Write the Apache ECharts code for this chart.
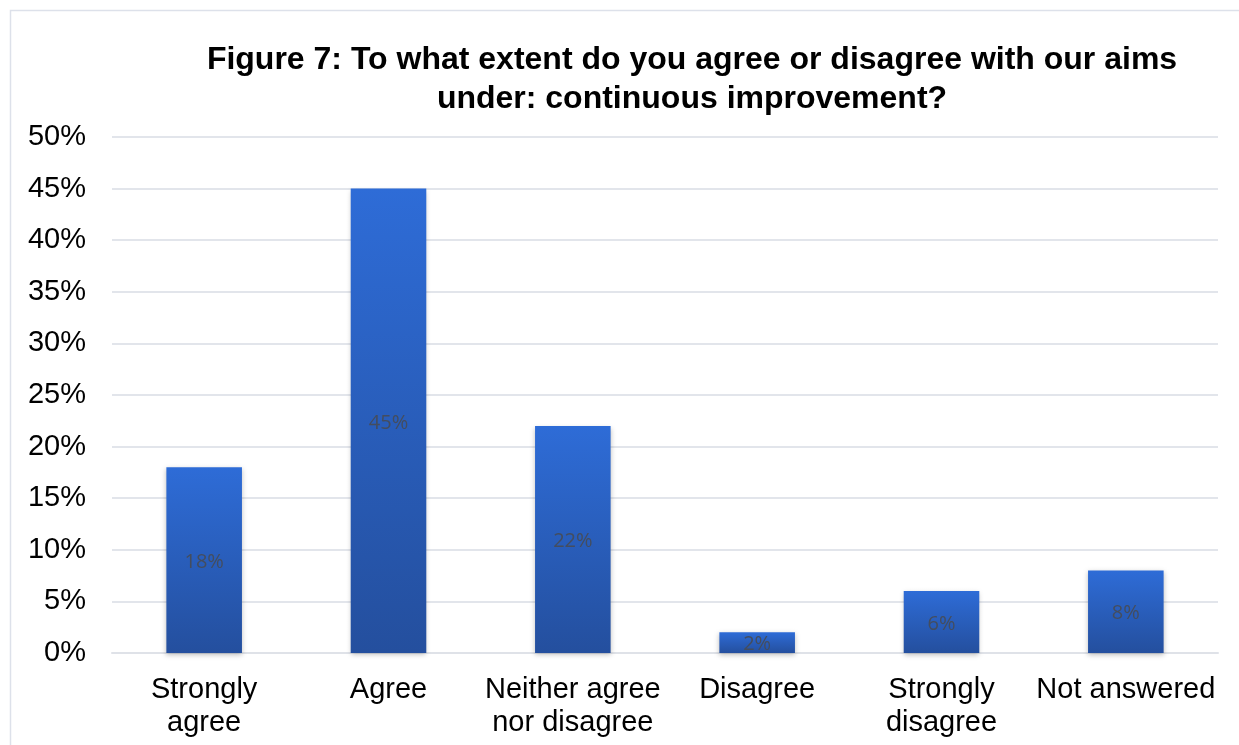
<!DOCTYPE html>
<html><head><meta charset="utf-8">
<script src="https://cdn.jsdelivr.net/npm/echarts@6/dist/echarts.min.js"></script>
<style>html,body{margin:0;padding:0;background:#fff}#c{width:1239px;height:745px}</style>
</head><body><div id="c"></div>
<script>
const categories = ['Strongly\nagree', 'Agree', 'Neither agree\nnor disagree', 'Disagree', 'Strongly\ndisagree', 'Not answered'];
const values = [18, 45, 22, 2, 6, 8];
const yTicks = [0, 5, 10, 15, 20, 25, 30, 35, 40, 45, 50];
const titleText = 'Figure 7: To what extent do you agree or disagree with our aims\nunder: continuous improvement?';

const chart = echarts.init(document.getElementById('c'), null, {renderer: 'canvas'});
chart.setOption({
  animation: false,
  backgroundColor: '#fff',
  graphic: [{type: 'rect', shape: {x: 10.5, y: 10.5, width: 1240, height: 760}, style: {fill: 'none', stroke: '#dde1ea', lineWidth: 1.5}}],
  title: {
    text: titleText, left: 687, top: 36, textAlign: 'center',
    textStyle: {fontFamily: 'Liberation Sans, Arial', fontWeight: 'bold', fontSize: 32, lineHeight: 39, color: '#000'}
  },
  grid: {left: 112, right: 21, top: 137, bottom: 92},
  xAxis: {
    type: 'category', data: categories,
    axisLine: {lineStyle: {color: '#dfe2e8', width: 2}},
    axisTick: {show: false},
    axisLabel: {fontFamily: 'Liberation Sans, Arial', fontSize: 29, color: '#000', lineHeight: 33, margin: 20, interval: 0}
  },
  yAxis: {
    type: 'value', min: 0, max: 50, interval: 5,
    axisLine: {show: false}, axisTick: {show: false},
    splitLine: {lineStyle: {color: '#e2e5eb', width: 2}},
    axisLabel: {fontFamily: 'Liberation Sans, Arial', fontSize: 29, color: '#000', margin: 26, formatter: v => v + '%'}
  },
  series: [{
    type: 'bar', data: values, barWidth: '41%',
    itemStyle: {
      color: new echarts.graphic.LinearGradient(0, 0, 0, 1, [{offset: 0, color: '#2e6cd7'}, {offset: 1, color: '#244f9e'}]),
      shadowColor: 'rgba(0,0,0,0.25)', shadowBlur: 5, shadowOffsetY: 2
    },
    label: {show: true, position: 'inside', offset: [0, 2], formatter: '{c}%', fontFamily: 'Open Sans, Lato, sans-serif', fontSize: 20, color: '#444d5e'}
  }]
});
</script></body></html>
